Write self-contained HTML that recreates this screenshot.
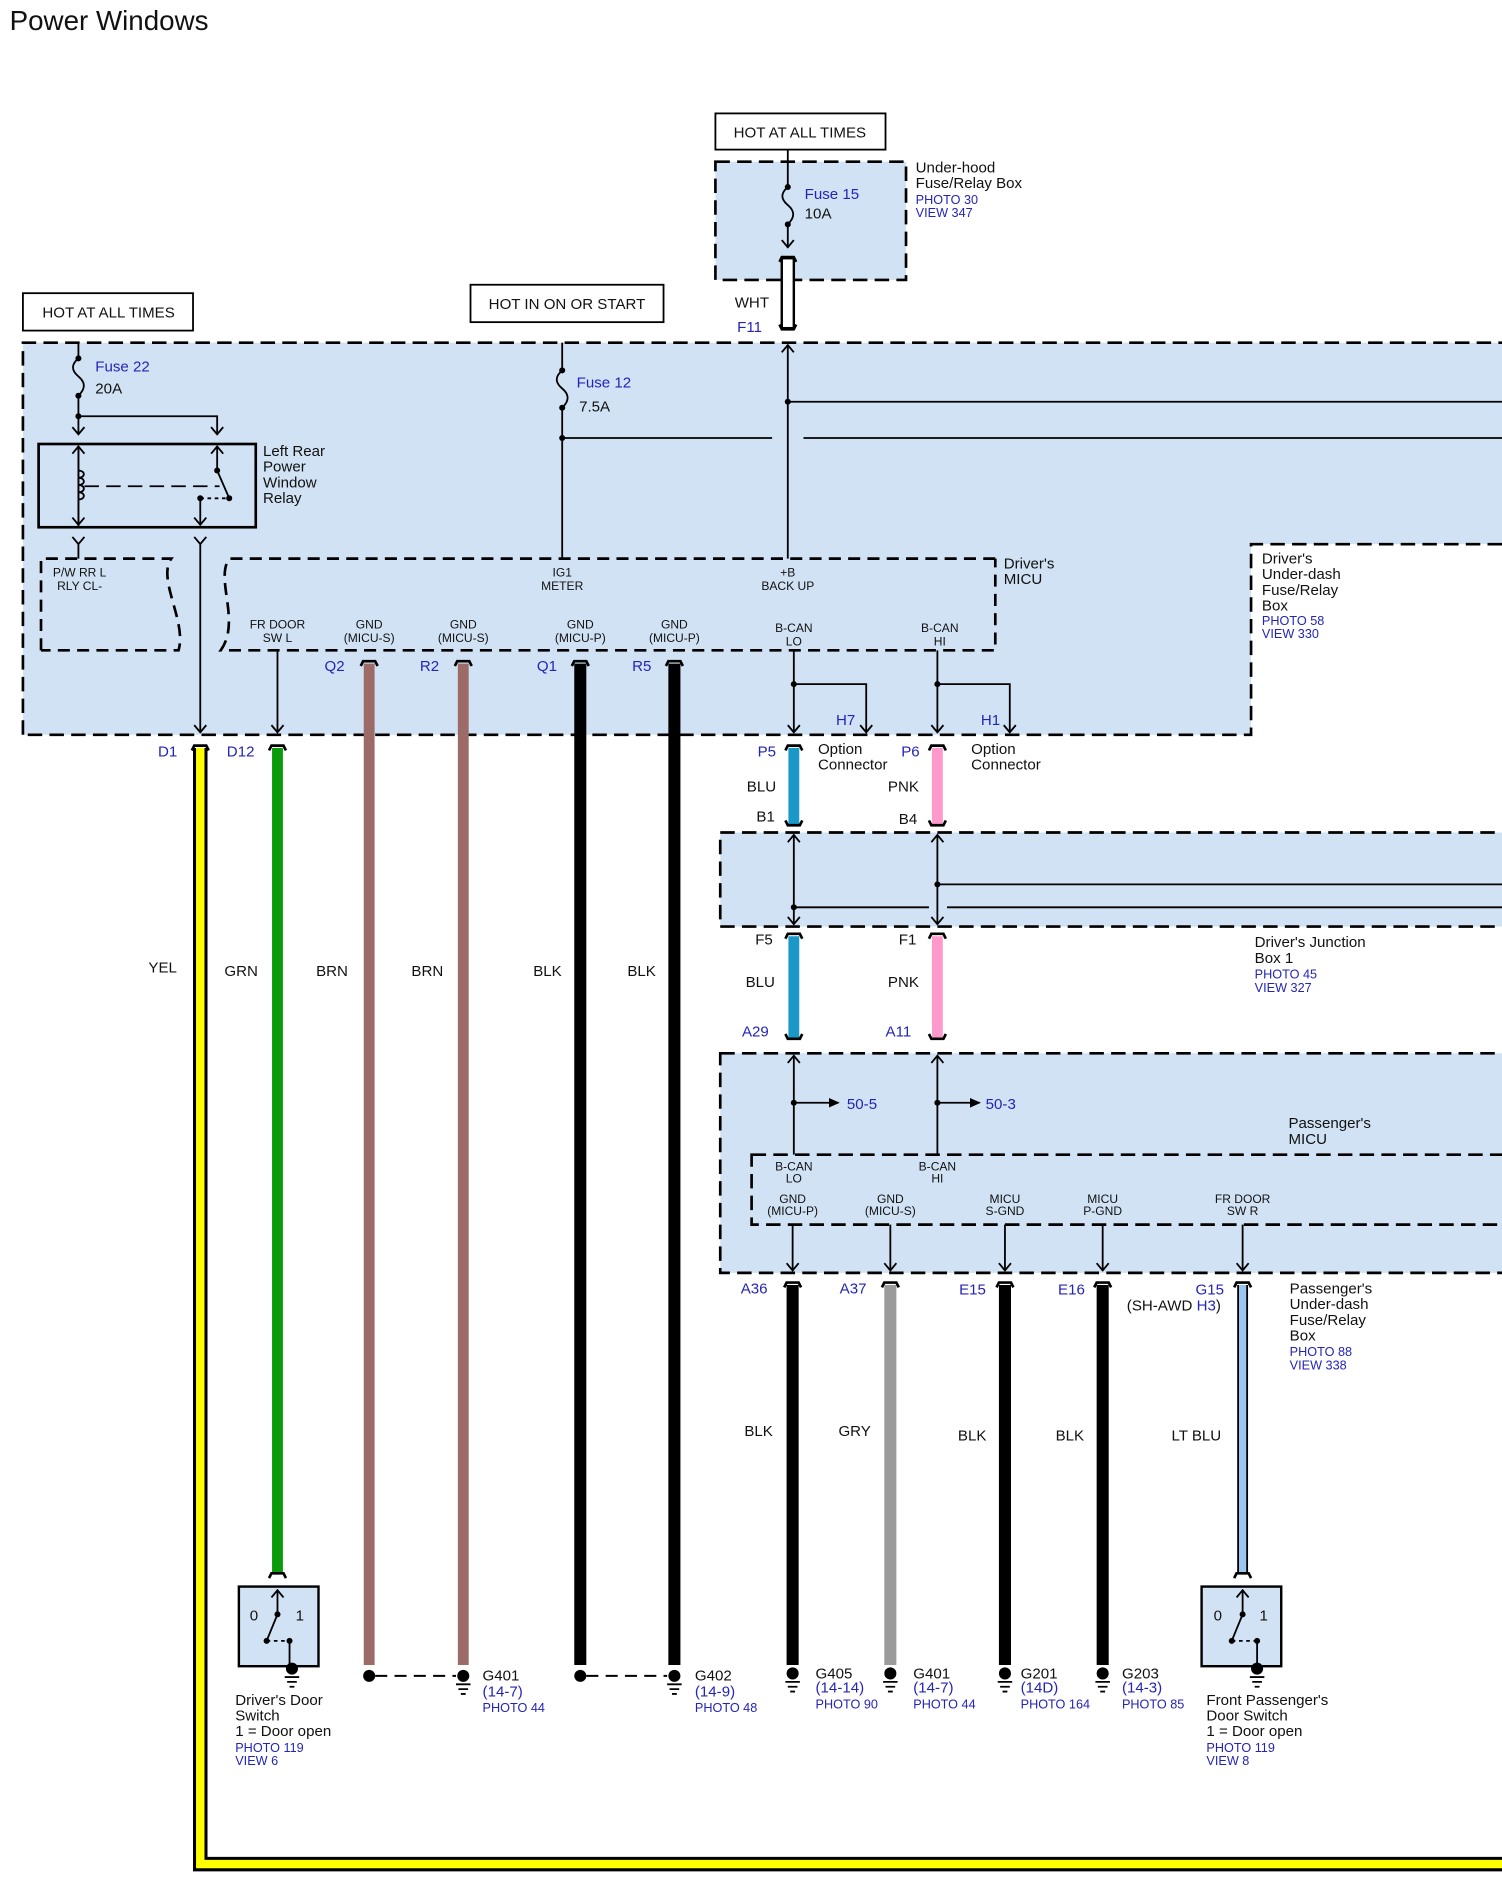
<!DOCTYPE html>
<html><head><meta charset="utf-8"><style>
html,body{margin:0;padding:0;background:#fff;}
svg{display:block;}
text{font-family:"Liberation Sans",sans-serif;fill:#111;}
text.b,.b text,tspan.b{fill:#2424b8;}
.s{font-size:10px;}
.m{font-size:12.5px;}
.p{font-size:10.5px;}
</style></head><body>
<svg xmlns="http://www.w3.org/2000/svg" width="1502" height="1887" viewBox="0 0 1245 1564" preserveAspectRatio="none">
<defs>
<marker id="ar" markerWidth="12" markerHeight="12" refX="11" refY="6" orient="auto" markerUnits="userSpaceOnUse" viewBox="0 0 12 12"><path d="M5,1 L11,6 L5,11" fill="none" stroke="#000" stroke-width="1.5"/></marker>
<marker id="as" markerWidth="12" markerHeight="12" refX="11" refY="6" orient="auto-start-reverse" markerUnits="userSpaceOnUse" viewBox="0 0 12 12"><path d="M5,1 L11,6 L5,11" fill="none" stroke="#000" stroke-width="1.5"/></marker>
<marker id="tri" markerWidth="10" markerHeight="10" refX="8" refY="5" orient="auto" markerUnits="userSpaceOnUse" viewBox="0 0 10 10"><path d="M0,1 L9,5 L0,9z" fill="#000"/></marker>
</defs>
<text x="8" y="25" style="font-size:23px">Power Windows</text>

<path d="M19,284 H1245 V451 H1037 V609 H19 Z" fill="#d0e2f4"/>
<path d="M19,609 V284 H1245 M1245,451 H1037 V609 H19" fill="none" stroke="#000" stroke-width="2.2" stroke-dasharray="12,6"/>
<rect x="593" y="134" width="158" height="98" fill="#d0e2f4" stroke="#000" stroke-width="2.2" stroke-dasharray="12,6"/>
<rect x="597" y="690" width="660" height="78" fill="#d0e2f4" stroke="#000" stroke-width="2.2" stroke-dasharray="12,6"/>
<rect x="597" y="873" width="660" height="182" fill="#d0e2f4" stroke="#000" stroke-width="2.2" stroke-dasharray="12,6"/>
<rect x="623" y="957" width="640" height="58" fill="none" stroke="#000" stroke-width="2.2" stroke-dasharray="12,6"/>

<rect x="593" y="94" width="141" height="30" fill="#fff" stroke="#000" stroke-width="1.5"/>
<text x="663" y="114" class="m" text-anchor="middle">HOT AT ALL TIMES</text>
<rect x="19" y="243" width="141" height="31" fill="#fff" stroke="#000" stroke-width="1.5"/>
<text x="90" y="263" class="m" text-anchor="middle">HOT AT ALL TIMES</text>
<rect x="390" y="236" width="160" height="31" fill="#fff" stroke="#000" stroke-width="1.5"/>
<text x="470" y="256" class="m" text-anchor="middle">HOT IN ON OR START</text>

<g stroke="#000" stroke-width="1.5" fill="none">
<path d="M653,124 V155 C647,160 647,165 653,170 C659,175 659,180 653,186 V205" marker-end="url(#ar)"/>
</g>
<circle cx="653" cy="155" r="2.5"/><circle cx="653" cy="186" r="2.5"/>
<text x="667" y="165" class="m b">Fuse 15</text>
<text x="667" y="181" class="m">10A</text>
<text x="759" y="143" class="m">Under-hood</text>
<text x="759" y="156" class="m">Fuse/Relay Box</text>
<text x="759" y="169" class="p b">PHOTO 30</text>
<text x="759" y="180" class="p b">VIEW 347</text>
<rect x="648" y="214" width="10" height="58" fill="#fff" stroke="#000" stroke-width="2"/>
<path d="M646,217 L648,213 H658 L660,217 M646,269 L648,273 H658 L660,269" fill="none" stroke="#000" stroke-width="2"/>
<text x="609" y="255" class="m">WHT</text>
<text x="611" y="275" class="m b">F11</text>

<g stroke="#000" stroke-width="1.5" fill="none">
<path d="M65,284 V297 C59,302 59,307 65,312 C71,317 71,322 65,328 V360" marker-end="url(#ar)"/>
<path d="M65,345 H180 V360" marker-end="url(#ar)"/>
<rect x="32" y="368" width="180" height="69" stroke-width="2.2"/>
<path d="M65,437 V370" marker-end="url(#ar)"/>
<path d="M65,370 V435" marker-end="url(#ar)"/>
<path d="M180,390 V370" marker-end="url(#ar)"/>
<path d="M180,390 L190,413"/>
<path d="M166,413 V435" marker-end="url(#ar)"/>
<path d="M166,413 H190" stroke-dasharray="3,3"/>
<path d="M65,390 c6,0 6,6 0,6 c6,0 6,6 0,6 c6,0 6,6 0,6 c6,0 6,6 0,6"/>
<path d="M70,403 H182" stroke-dasharray="12,6"/>
<path d="M60,445 L65,451 L70,445 M161,445 L166,451 L171,445"/>
<path d="M65,451 V463"/>
<path d="M166,451 V607" marker-end="url(#ar)"/>
</g>
<circle cx="65" cy="345" r="2.5"/><circle cx="65" cy="297" r="2.5"/><circle cx="65" cy="328" r="2.5"/>
<circle cx="180" cy="390" r="2.5"/><circle cx="190" cy="413" r="2.5"/><circle cx="166" cy="413" r="2.5"/>
<text x="79" y="308" class="m b">Fuse 22</text>
<text x="79" y="326" class="m">20A</text>
<text x="218" y="378" class="m">Left Rear</text>
<text x="218" y="391" class="m">Power</text>
<text x="218" y="404" class="m">Window</text>
<text x="218" y="417" class="m">Relay</text>

<g stroke="#000" stroke-width="2.2" fill="none" stroke-dasharray="10,6">
<path d="M34,539 V463 H142 C130,480 155,515 148,539 H34"/>
<path d="M825,463 H190 C178,480 200,515 183,539 H825 V463"/>
</g>
<text x="66" y="478" class="s" text-anchor="middle">P/W RR L</text>
<text x="66" y="489" class="s" text-anchor="middle">RLY CL-</text>
<text x="832" y="471" class="m">Driver's</text>
<text x="832" y="484" class="m">MICU</text>

<g stroke="#000" stroke-width="1.5" fill="none">
<path d="M466,284 V307 C460,312 460,317 466,322 C472,327 472,332 466,338 V463"/>
<path d="M466,363 H640 M666,363 H1245"/>
<path d="M653,463 V286" marker-end="url(#ar)"/>
<path d="M653,333 H1245"/>
<path d="M230,539 V607" marker-end="url(#ar)"/>
<path d="M658,539 V607" marker-end="url(#ar)"/>
<path d="M658,567 H718 V607" marker-end="url(#ar)"/>
<path d="M777,539 V607" marker-end="url(#ar)"/>
<path d="M777,567 H837 V607" marker-end="url(#ar)"/>
</g>
<circle cx="466" cy="363" r="2.5"/><circle cx="653" cy="333" r="2.5"/><circle cx="466" cy="307" r="2.5"/><circle cx="466" cy="338" r="2.5"/>
<circle cx="658" cy="567" r="2.5"/><circle cx="777" cy="567" r="2.5"/>
<text x="478" y="321" class="m b">Fuse 12</text>
<text x="480" y="341" class="m">7.5A</text>
<g class="s" text-anchor="middle">
<text x="466" y="478">IG1</text><text x="466" y="489">METER</text>
<text x="653" y="478">+B</text><text x="653" y="489">BACK UP</text>
<text x="230" y="521">FR DOOR</text><text x="230" y="532">SW L</text>
<text x="306" y="521">GND</text><text x="306" y="532">(MICU-S)</text>
<text x="384" y="521">GND</text><text x="384" y="532">(MICU-S)</text>
<text x="481" y="521">GND</text><text x="481" y="532">(MICU-P)</text>
<text x="559" y="521">GND</text><text x="559" y="532">(MICU-P)</text>
<text x="658" y="524">B-CAN</text><text x="658" y="535">LO</text>
<text x="779" y="524">B-CAN</text><text x="779" y="535">HI</text>
</g>
<text x="693" y="601" class="m b">H7</text>
<text x="813" y="601" class="m b">H1</text>
<text x="1046" y="467" class="m">Driver's</text>
<text x="1046" y="480" class="m">Under-dash</text>
<text x="1046" y="493" class="m">Fuse/Relay</text>
<text x="1046" y="506" class="m">Box</text>
<text x="1046" y="518" class="p b">PHOTO 58</text>
<text x="1046" y="529" class="p b">VIEW 330</text>

<path d="M166,620 V1545 H1245" fill="none" stroke="#000" stroke-width="12"/>
<path d="M166,620 V1545 H1245" fill="none" stroke="#ffff00" stroke-width="7"/>
<line x1="230" y1="620" x2="230" y2="1305" stroke="#0a9a0a" stroke-width="9"/>
<line x1="306" y1="550" x2="306" y2="1380" stroke="#9c6b68" stroke-width="9"/>
<line x1="384" y1="550" x2="384" y2="1380" stroke="#9c6b68" stroke-width="9"/>
<line x1="481" y1="550" x2="481" y2="1380" stroke="#000" stroke-width="10"/>
<line x1="559" y1="550" x2="559" y2="1380" stroke="#000" stroke-width="10"/>
<line x1="658" y1="620" x2="658" y2="683" stroke="#1a98c8" stroke-width="9"/>
<line x1="777" y1="620" x2="777" y2="683" stroke="#ff99cc" stroke-width="9"/>
<line x1="658" y1="776" x2="658" y2="860" stroke="#1a98c8" stroke-width="9"/>
<line x1="777" y1="776" x2="777" y2="860" stroke="#ff99cc" stroke-width="9"/>
<line x1="657" y1="1065" x2="657" y2="1380" stroke="#000" stroke-width="10"/>
<line x1="738" y1="1065" x2="738" y2="1380" stroke="#9b9b9b" stroke-width="10"/>
<line x1="833" y1="1065" x2="833" y2="1380" stroke="#000" stroke-width="10"/>
<line x1="914" y1="1065" x2="914" y2="1380" stroke="#000" stroke-width="10"/>
<line x1="1030" y1="1065" x2="1030" y2="1305" stroke="#000" stroke-width="9"/>
<line x1="1030" y1="1065" x2="1030" y2="1305" stroke="#99c6ef" stroke-width="6"/>
<g stroke="#000" stroke-width="2.2" fill="none">
<path d="M159,622 L161,618 H171 L173,622"/><path d="M223,622 L225,618 H235 L237,622"/>
<path d="M299,552 L301,548 H311 L313,552"/><path d="M377,552 L379,548 H389 L391,552"/>
<path d="M474,552 L476,548 H486 L488,552"/><path d="M552,552 L554,548 H564 L566,552"/>
<path d="M651,622 L653,618 H663 L665,622"/><path d="M770,622 L772,618 H782 L784,622"/>
<path d="M651,680 L653,684 H663 L665,680"/><path d="M770,680 L772,684 H782 L784,680"/>
<path d="M651,778 L653,774 H663 L665,778"/><path d="M770,778 L772,774 H782 L784,778"/>
<path d="M651,857 L653,861 H663 L665,857"/><path d="M770,857 L772,861 H782 L784,857"/>
<path d="M650,1067 L652,1063 H662 L664,1067"/><path d="M731,1067 L733,1063 H743 L745,1067"/>
<path d="M826,1067 L828,1063 H838 L840,1067"/><path d="M907,1067 L909,1063 H919 L921,1067"/>
<path d="M1023,1067 L1025,1063 H1035 L1037,1067"/>
<path d="M223,1308 L225,1304 H235 L237,1308"/><path d="M1023,1308 L1025,1304 H1035 L1037,1308"/>
</g>
<g class="m b">
<text x="131" y="627">D1</text><text x="188" y="627">D12</text>
<text x="269" y="556">Q2</text><text x="348" y="556">R2</text><text x="445" y="556">Q1</text><text x="524" y="556">R5</text>
<text x="628" y="627">P5</text><text x="747" y="627">P6</text>
<text x="615" y="859">A29</text><text x="734" y="859">A11</text>
<text x="614" y="1072">A36</text><text x="696" y="1072">A37</text><text x="795" y="1073">E15</text><text x="877" y="1073">E16</text><text x="991" y="1073">G15</text>
</g>
<g class="m">
<text x="678" y="625">Option</text><text x="678" y="638">Connector</text>
<text x="805" y="625">Option</text><text x="805" y="638">Connector</text>
<text x="619" y="656">BLU</text><text x="736" y="656">PNK</text>
<text x="627" y="681">B1</text><text x="745" y="683">B4</text>
<text x="626" y="783">F5</text><text x="745" y="783">F1</text>
<text x="618" y="818">BLU</text><text x="736" y="818">PNK</text>
<text x="123" y="806">YEL</text><text x="186" y="809">GRN</text><text x="262" y="809">BRN</text><text x="341" y="809">BRN</text><text x="442" y="809">BLK</text><text x="520" y="809">BLK</text>
<text x="617" y="1190">BLK</text><text x="695" y="1190">GRY</text><text x="794" y="1194">BLK</text><text x="875" y="1194">BLK</text><text x="971" y="1194">LT BLU</text>
<text x="934" y="1086">(SH-AWD <tspan class="b">H3</tspan>)</text>
<text x="1040" y="785">Driver's Junction</text><text x="1040" y="798">Box 1</text>
<text x="1068" y="935">Passenger's</text><text x="1068" y="948">MICU</text>
<text x="1069" y="1072">Passenger's</text><text x="1069" y="1085">Under-dash</text><text x="1069" y="1098">Fuse/Relay</text><text x="1069" y="1111">Box</text>
</g>
<text x="1040" y="811" class="p b">PHOTO 45</text><text x="1040" y="822" class="p b">VIEW 327</text>
<text x="1069" y="1124" class="p b">PHOTO 88</text><text x="1069" y="1135" class="p b">VIEW 338</text>

<g stroke="#000" stroke-width="1.5" fill="none">
<path d="M658,692 V766" marker-start="url(#as)" marker-end="url(#as)"/>
<path d="M777,692 V766" marker-start="url(#as)" marker-end="url(#as)"/>
<path d="M658,752 H770 M785,752 H1245"/>
<path d="M777,733 H1245"/>
<path d="M658,957 V875" marker-end="url(#ar)"/>
<path d="M777,957 V875" marker-end="url(#ar)"/>
<path d="M658,914 H695" marker-end="url(#tri)"/>
<path d="M777,914 H812" marker-end="url(#tri)"/>
<path d="M657,1015 V1053" marker-end="url(#ar)"/>
<path d="M738,1015 V1053" marker-end="url(#ar)"/>
<path d="M833,1015 V1053" marker-end="url(#ar)"/>
<path d="M914,1015 V1053" marker-end="url(#ar)"/>
<path d="M1030,1015 V1053" marker-end="url(#ar)"/>
</g>
<circle cx="658" cy="752" r="2.5"/><circle cx="777" cy="733" r="2.5"/><circle cx="658" cy="914" r="2.5"/><circle cx="777" cy="914" r="2.5"/>
<text x="702" y="919" class="m b">50-5</text><text x="817" y="919" class="m b">50-3</text>
<g class="s" text-anchor="middle">
<text x="658" y="970">B-CAN</text><text x="658" y="980">LO</text>
<text x="777" y="970">B-CAN</text><text x="777" y="980">HI</text>
<text x="657" y="997">GND</text><text x="657" y="1007">(MICU-P)</text>
<text x="738" y="997">GND</text><text x="738" y="1007">(MICU-S)</text>
<text x="833" y="997">MICU</text><text x="833" y="1007">S-GND</text>
<text x="914" y="997">MICU</text><text x="914" y="1007">P-GND</text>
<text x="1030" y="997">FR DOOR</text><text x="1030" y="1007">SW R</text>
</g>

<g>
<rect x="198" y="1315" width="66" height="66" fill="#d0e2f4" stroke="#000" stroke-width="2"/>
<text x="207" y="1343" class="m">0</text><text x="245" y="1343" class="m">1</text>
<g stroke="#000" stroke-width="1.5" fill="none"><path d="M230,1338 V1318" marker-end="url(#ar)"/><path d="M230,1338 L221,1360"/><path d="M221,1360 H240" stroke-dasharray="3,3"/><path d="M240,1360 V1381"/></g>
<circle cx="230" cy="1338" r="2.5"/><circle cx="221" cy="1360" r="2.5"/><circle cx="240" cy="1360" r="2.5"/>
<rect x="996" y="1315" width="66" height="66" fill="#d0e2f4" stroke="#000" stroke-width="2"/>
<text x="1006" y="1343" class="m">0</text><text x="1044" y="1343" class="m">1</text>
<g stroke="#000" stroke-width="1.5" fill="none"><path d="M1030,1338 V1318" marker-end="url(#ar)"/><path d="M1030,1338 L1021,1360"/><path d="M1021,1360 H1042" stroke-dasharray="3,3"/><path d="M1042,1360 V1381"/></g>
<circle cx="1030" cy="1338" r="2.5"/><circle cx="1021" cy="1360" r="2.5"/><circle cx="1042" cy="1360" r="2.5"/>
</g>

<g stroke="#000" stroke-width="1.5" fill="none">
<path d="M236,1390 h12 M238,1394 h8 M240,1398 h4"/>
<path d="M1036,1390 h12 M1038,1394 h8 M1040,1398 h4"/>
<path d="M378,1396 h12 M380,1400 h8 M382,1404 h4"/>
<path d="M553,1396 h12 M555,1400 h8 M557,1404 h4"/>
<path d="M651,1394 h12 M653,1398 h8 M655,1402 h4"/>
<path d="M732,1394 h12 M734,1398 h8 M736,1402 h4"/>
<path d="M827,1394 h12 M829,1398 h8 M831,1402 h4"/>
<path d="M908,1394 h12 M910,1398 h8 M912,1402 h4"/>
<path d="M311,1389 H378 M486,1389 H553" stroke-dasharray="10,6" stroke-width="1.6"/>
</g>
<g fill="#000">
<circle cx="242" cy="1383" r="5"/><circle cx="1042" cy="1383" r="5"/>
<circle cx="306" cy="1389" r="5"/><circle cx="384" cy="1389" r="5"/><circle cx="481" cy="1389" r="5"/><circle cx="559" cy="1389" r="5"/>
<circle cx="657" cy="1387" r="5"/><circle cx="738" cy="1387" r="5"/><circle cx="833" cy="1387" r="5"/><circle cx="914" cy="1387" r="5"/>
</g>
<g class="m">
<text x="195" y="1413">Driver's Door</text><text x="195" y="1426">Switch</text><text x="195" y="1439">1 = Door open</text>
<text x="1000" y="1413">Front Passenger's</text><text x="1000" y="1426">Door Switch</text><text x="1000" y="1439">1 = Door open</text>
<text x="400" y="1393">G401</text><text x="400" y="1406" class="b">(14-7)</text>
<text x="576" y="1393">G402</text><text x="576" y="1406" class="b">(14-9)</text>
<text x="676" y="1391">G405</text><text x="676" y="1403" class="b">(14-14)</text>
<text x="757" y="1391">G401</text><text x="757" y="1403" class="b">(14-7)</text>
<text x="846" y="1391">G201</text><text x="846" y="1403" class="b">(14D)</text>
<text x="930" y="1391">G203</text><text x="930" y="1403" class="b">(14-3)</text>
</g>
<g class="p b">
<text x="195" y="1452">PHOTO 119</text><text x="195" y="1463">VIEW 6</text>
<text x="1000" y="1452">PHOTO 119</text><text x="1000" y="1463">VIEW 8</text>
<text x="400" y="1419">PHOTO 44</text><text x="576" y="1419">PHOTO 48</text>
<text x="676" y="1416">PHOTO 90</text><text x="757" y="1416">PHOTO 44</text>
<text x="846" y="1416">PHOTO 164</text><text x="930" y="1416">PHOTO 85</text>
</g>
</svg>
</body></html>
